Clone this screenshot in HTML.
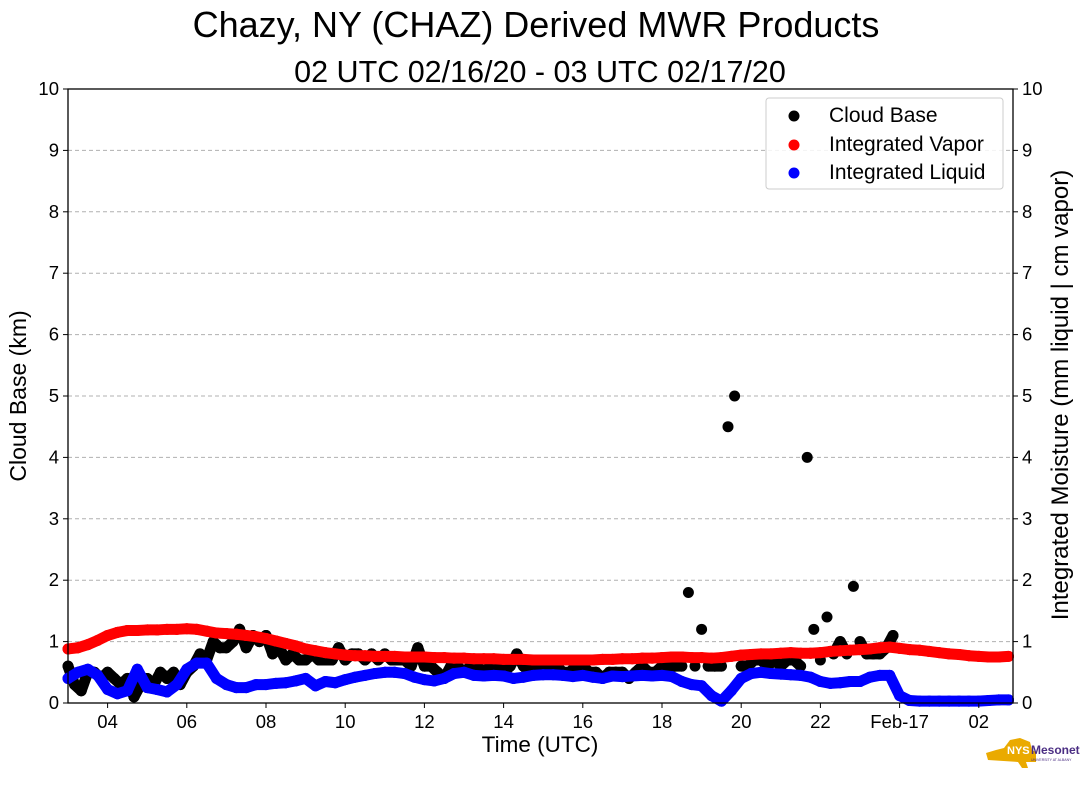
<!DOCTYPE html>
<html><head><meta charset="utf-8"><style>
body{margin:0;background:#fff;}
svg text{font-family:"Liberation Sans","DejaVu Sans",sans-serif;}
</style></head><body>
<svg id="chart" width="1089" height="804" xmlns="http://www.w3.org/2000/svg">
<text x="536" y="37" font-size="36" text-anchor="middle">Chazy, NY (CHAZ) Derived MWR Products</text>
<text x="540" y="82" font-size="30.5" text-anchor="middle">02 UTC 02/16/20 - 03 UTC 02/17/20</text>
<g id="grid"></g>
<g id="marks"></g>
<rect x="68" y="89" width="945" height="614" fill="none" stroke="#000" stroke-width="1.3"/>
<g id="axes"></g>
<text x="540" y="752" font-size="22.5" text-anchor="middle">Time (UTC)</text>
<text transform="translate(26,396) rotate(-90)" font-size="23" text-anchor="middle">Cloud Base (km)</text>
<text transform="translate(1068,395) rotate(-90)" font-size="24" text-anchor="middle">Integrated Moisture (mm liquid | cm vapor)</text>
<g>
<rect x="766" y="98" width="237" height="91" rx="3" fill="#fff" fill-opacity="0.85" stroke="#ccc"/>
<circle cx="794" cy="116" r="5.5" fill="#000"/><text x="829" y="122" font-size="21">Cloud Base</text>
<circle cx="794" cy="145" r="5.5" fill="#f00"/><text x="829" y="151" font-size="21">Integrated Vapor</text>
<circle cx="794" cy="173" r="5.5" fill="#00f"/><text x="829" y="179" font-size="21">Integrated Liquid</text>
</g>
<g>
<polygon points="1010,740 1020,738 1030,742 1032,750 1036,752 1036,762 1026,762 1028,768 1022,768 1018,762 988,760 986,753 996,750 1004,748" fill="#eaaa00"/>
<text x="1007" y="754" font-size="11" font-weight="bold" fill="#fff">NYS</text>
<text x="1031" y="754" font-size="12" font-weight="bold" fill="#4b2e83">Mesonet</text>
<text x="1031" y="761" font-size="3.5" fill="#4b2e83">UNIVERSITY AT ALBANY</text>
</g>
</svg>
<script>
const xTickHours=[4,6,8,10,12,14,16,18,20,22,24,26];
const xTickLabels=["04","06","08","10","12","14","16","18","20","22","Feb-17","02"];
const yTicks=[0,1,2,3,4,5,6,7,8,9,10];
const seriesStart=3;
const moistStep=0.25;
const cloudStep=1/6;
const vaporValues=[0.88,0.90,0.95,1.02,1.10,1.15,1.18,1.18,1.19,1.19,1.20,1.20,1.21,1.20,1.17,1.14,1.13,1.12,1.10,1.08,1.05,1.01,0.97,0.93,0.88,0.85,0.82,0.80,0.78,0.77,0.77,0.76,0.76,0.76,0.75,0.75,0.75,0.74,0.74,0.73,0.73,0.72,0.72,0.72,0.71,0.71,0.71,0.70,0.70,0.70,0.70,0.70,0.70,0.70,0.71,0.71,0.72,0.72,0.73,0.73,0.74,0.75,0.75,0.74,0.74,0.73,0.74,0.76,0.78,0.79,0.80,0.80,0.81,0.82,0.81,0.81,0.82,0.84,0.85,0.86,0.87,0.88,0.90,0.91,0.89,0.87,0.86,0.84,0.82,0.80,0.79,0.77,0.76,0.75,0.75,0.76];
const liquidValues=[0.40,0.50,0.55,0.45,0.22,0.15,0.20,0.55,0.25,0.22,0.18,0.30,0.55,0.65,0.65,0.40,0.30,0.25,0.25,0.30,0.30,0.32,0.33,0.36,0.40,0.28,0.35,0.33,0.38,0.42,0.45,0.48,0.50,0.50,0.48,0.42,0.38,0.36,0.40,0.48,0.50,0.45,0.44,0.45,0.44,0.40,0.42,0.45,0.46,0.46,0.45,0.43,0.45,0.42,0.40,0.44,0.43,0.44,0.45,0.44,0.45,0.43,0.35,0.30,0.28,0.12,0.03,0.20,0.40,0.48,0.50,0.48,0.47,0.46,0.45,0.42,0.35,0.32,0.33,0.35,0.35,0.42,0.45,0.45,0.12,0.04,0.03,0.03,0.03,0.03,0.03,0.03,0.03,0.04,0.05,0.05];
const cloudValues=[0.6,0.3,0.2,0.5,0.5,0.4,0.5,0.4,0.3,0.4,0.1,0.3,0.4,0.3,0.5,0.4,0.5,0.3,0.5,0.6,0.8,0.7,1.0,0.9,0.9,1.0,1.2,0.9,1.1,1.0,1.1,0.8,0.9,0.7,0.8,0.7,0.7,0.8,0.7,0.7,0.7,0.9,0.7,0.8,0.8,0.7,0.8,0.7,0.8,0.7,0.7,0.7,0.6,0.9,0.6,0.6,0.5,0.4,0.6,0.6,0.5,0.6,0.6,0.5,0.6,0.6,0.5,0.6,0.8,0.6,0.5,0.6,0.6,0.5,0.6,0.5,0.5,0.6,0.6,0.5,0.5,0.4,0.5,0.5,0.5,0.4,0.5,0.6,0.5,0.5,0.6,0.6,0.6,0.6,1.8,0.6,1.2,0.6,0.6,0.6,4.5,5.0,0.6,0.6,0.7,0.7,0.6,0.7,0.6,0.7,0.7,0.6,4.0,1.2,0.7,1.4,0.8,1.0,0.8,1.9,1.0,0.8,0.8,0.8,0.9,1.1];

const NS="http://www.w3.org/2000/svg";
const X0=68,X1=1013,Y0=703,Y1=89,H0=3,PXH=39.6;
function xs(h){return X0+(h-H0)*PXH;}
function ys(v){return Y0-(v/10)*(Y0-Y1);}
function mk(tag,attrs,parent){const e=document.createElementNS(NS,tag);for(const k in attrs)e.setAttribute(k,attrs[k]);parent.appendChild(e);return e;}
const grid=document.getElementById('grid'),axes=document.getElementById('axes'),marks=document.getElementById('marks');
yTicks.forEach(v=>{
  const y=ys(v);
  if(v>0&&v<10){const g=mk('line',{x1:X0,x2:X1,y1:y,y2:y,stroke:'#b0b0b0','stroke-dasharray':'4,3','stroke-width':1},grid);
  
  }
  mk('line',{x1:X0-5,x2:X0,y1:y,y2:y,stroke:'#000'},axes);
  mk('line',{x1:X1,x2:X1+5,y1:y,y2:y,stroke:'#000'},axes);
  const tl=mk('text',{x:X0-9,y:y+6,'font-size':18.5,'text-anchor':'end'},axes);tl.textContent=v;
  
  
  const tr=mk('text',{x:X1+9,y:y+6,'font-size':18.5},axes);tr.textContent=v;
  
  
});
xTickHours.forEach((h,i)=>{
  const x=xs(h);
  mk('line',{x1:x,x2:x,y1:Y0,y2:Y0+5,stroke:'#000'},axes);
  const t=mk('text',{x:x,y:Y0+25,'font-size':18.5,'text-anchor':'middle'},axes);t.textContent=xTickLabels[i];
  
  
});
function draw(vals,step,color,name,maxJump){
  const pts=vals.map((v,i)=>[xs(seriesStart+i*step),ys(v)]).filter(p=>p[0]<=X1+2);
  for(let i=1;i<pts.length;i++){
    if(Math.abs(vals[i]-vals[i-1])>maxJump)continue;
    const l=mk('line',{x1:pts[i-1][0],y1:pts[i-1][1],x2:pts[i][0],y2:pts[i][1],stroke:color,'stroke-width':11,'stroke-linecap':'round'},marks);
    
    
  }
  pts.forEach(p=>{
    const c=mk('circle',{cx:p[0],cy:p[1],r:5.5,fill:color},marks);
    
    
  });
}
draw(cloudValues,cloudStep,'#000','cloud-base-point',0.35);
draw(vaporValues,moistStep,'#f00','vapor-point',10);
draw(liquidValues,moistStep,'#00f','liquid-point',10);
</script>
</body></html>
